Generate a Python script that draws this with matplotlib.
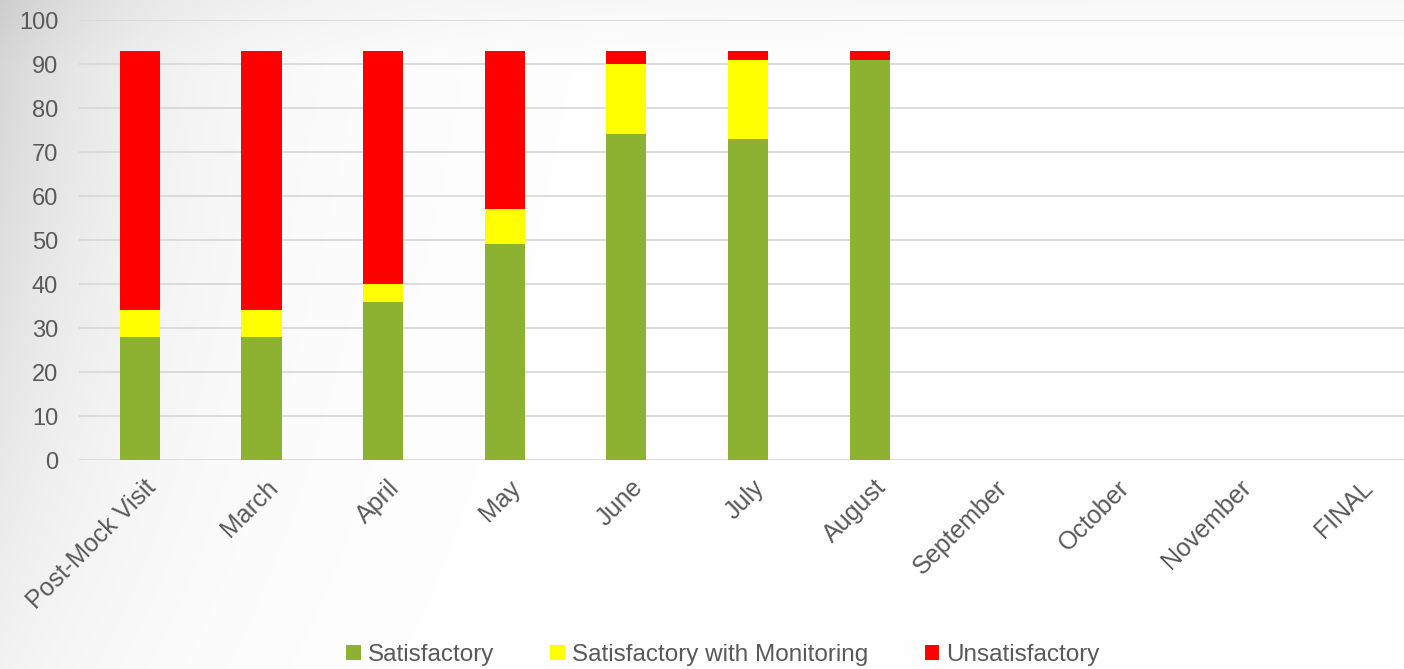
import numpy as np
import matplotlib
matplotlib.use("Agg")
import matplotlib.pyplot as plt
import matplotlib.transforms as mtransforms

categories = ["Post-Mock Visit", "March", "April", "May", "June", "July", "August",
              "September", "October", "November", "FINAL"]
satisfactory = [28, 28, 36, 49, 74, 73, 91, 0, 0, 0, 0]
monitoring = [6, 6, 4, 8, 16, 18, 0, 0, 0, 0, 0]
unsatisfactory = [59, 59, 53, 36, 3, 2, 2, 0, 0, 0, 0]
yticks = list(range(0, 101, 10))

colors = ["#8db232", "#ffff00", "#ff0000"]
text_color = "#595959"
FS = 17

fig = plt.figure(figsize=(14.04, 6.69), dpi=100)

# background gradient (grey in top-left corner fading to white)
bg = fig.add_axes([0, 0, 1, 1], zorder=-10)
xs = np.linspace(0, 1, 700)
ys = np.linspace(0, 1, 340)
X, Y = np.meshgrid(xs, ys)
fx = np.exp(-X / 0.11)
fy = 0.3 + 0.7 * Y
g = 1 - 0.17 * fx * fy - 0.025 * np.clip((Y - 0.9) / 0.1, 0, 1)
img = np.dstack([g, g, g])
bg.imshow(img, extent=[0, 1, 0, 1], origin="lower", aspect="auto")
bg.axis("off")

ax = fig.add_axes([0.0563, 0.3124, 0.953, 0.6577])
ax.patch.set_alpha(0)
x = np.arange(len(categories))
w = 0.33
s = np.array(satisfactory)
m = np.array(monitoring)
u = np.array(unsatisfactory)
ax.bar(x, s, w, color=colors[0], label="Satisfactory", zorder=3)
ax.bar(x, m, w, bottom=s, color=colors[1], label="Satisfactory with Monitoring", zorder=3)
ax.bar(x, u, w, bottom=s + m, color=colors[2], label="Unsatisfactory", zorder=3)

ax.set_xlim(-0.5, len(categories) - 0.5)
ax.set_ylim(0, 100)
ax.set_yticks(yticks)
ax.grid(axis="y", color="#d9d9d9", linewidth=1.3, zorder=0)
for sp in ax.spines.values():
    sp.set_visible(False)
ax.tick_params(axis="both", length=0, colors=text_color, labelsize=FS)
ax.tick_params(axis="y", pad=15)
ax.set_xticks(x)
ax.set_xticklabels(categories, rotation=45, ha="right", va="top", rotation_mode="anchor")
ax.tick_params(axis="x", pad=11)
for lab in ax.get_xticklabels():
    lab.set_fontsize(18)
offset = mtransforms.ScaledTranslation(4 / 100, 0, fig.dpi_scale_trans)
for lab in ax.get_xticklabels():
    lab.set_transform(lab.get_transform() + offset)
for lab in ax.get_xticklabels() + ax.get_yticklabels():
    lab.set_color(text_color)
    lab.set_family("Liberation Sans")

leg = fig.legend(loc="center", bbox_to_anchor=(0.515, 0.021), ncol=3, frameon=False,
                 handlelength=0.6, handleheight=0.6, handletextpad=0.3, columnspacing=2.3,
                 prop={"family": "Liberation Sans", "size": 17.5})
for t in leg.get_texts():
    t.set_color(text_color)

fig.savefig("out.png", dpi=100)
